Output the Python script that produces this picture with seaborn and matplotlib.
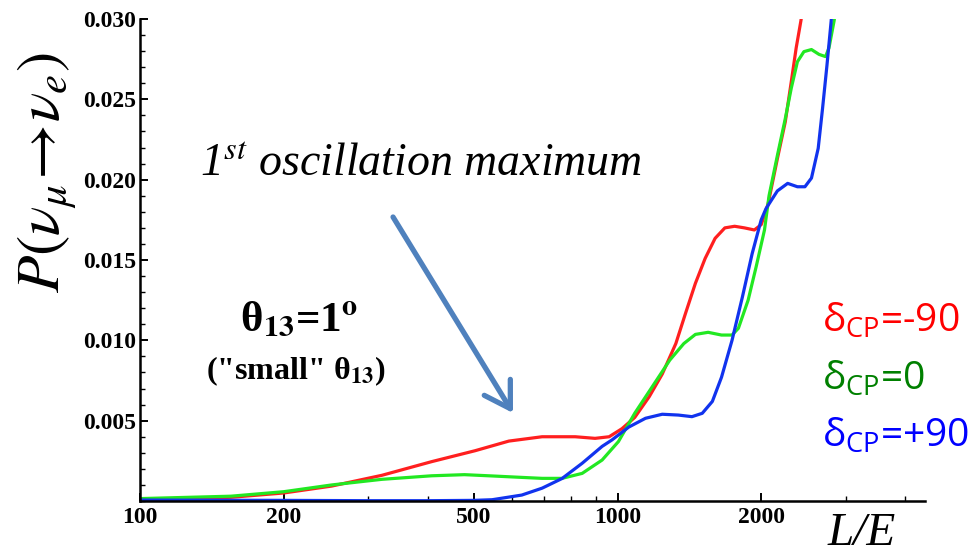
import numpy as np
import pandas as pd
import matplotlib
matplotlib.use("Agg")
import matplotlib.pyplot as plt
import matplotlib.ticker as mticker
import seaborn as sns

# values (L/E, probability)
le_red = [100, 155, 200, 252, 321, 408, 503, 592, 695, 815, 897, 960, 1021, 1086,
          1165, 1240, 1324, 1388, 1455, 1525, 1600, 1677, 1758, 1843, 1933, 1998,
          2066, 2160, 2244, 2310, 2365, 2420, 2470]
p_red = [0.0001, 0.00023, 0.0005, 0.00093, 0.0016, 0.00245, 0.00313, 0.00373, 0.0040,
         0.0040, 0.0039, 0.0040, 0.0045, 0.0052, 0.0065, 0.0079, 0.0098, 0.0117,
         0.01355, 0.0151, 0.01635, 0.0170, 0.0171, 0.0170, 0.01687, 0.0172, 0.0185,
         0.0213, 0.0236, 0.0261, 0.0282, 0.0299, 0.0318]

le_green = [100, 155, 200, 252, 321, 408, 478, 546, 620, 695, 765, 843, 928, 1004,
            1086, 1181, 1286, 1376, 1455, 1547, 1650, 1736, 1790, 1876, 1950, 2030,
            2075, 2160, 2244, 2310, 2379, 2455, 2546, 2640, 2725, 2770, 2840, 2880]
p_green = [0.00015, 0.0003, 0.00058, 0.001, 0.00135, 0.00157, 0.00164, 0.00156, 0.00148,
           0.00141, 0.00141, 0.00172, 0.00255, 0.0037, 0.00546, 0.0071, 0.00877, 0.0098,
           0.01037, 0.0105, 0.01033, 0.01033, 0.01075, 0.0125, 0.01458, 0.01687, 0.019,
           0.0215, 0.0238, 0.0257, 0.02734, 0.02797, 0.0281, 0.0278, 0.02766, 0.0282,
           0.0299, 0.0315]

le_blue = [100, 200, 300, 400, 500, 546, 630, 695, 765, 843, 928, 973, 1055, 1144,
           1240, 1340, 1431, 1504, 1579, 1650, 1736, 1825, 1913, 1998, 2045, 2160,
           2270, 2379, 2467, 2546, 2630, 2685, 2743, 2800, 2830]
p_blue = [0.00006, 0.00004, 0.00002, 0.00002, 0.00004, 0.00008, 0.00037, 0.0008, 0.0014,
          0.00235, 0.0034, 0.0038, 0.0046, 0.00515, 0.0054, 0.00535, 0.00525, 0.00546,
          0.0062, 0.0077, 0.0100, 0.0127, 0.0154, 0.0175, 0.0182, 0.0193, 0.01977,
          0.01956, 0.01956, 0.0201, 0.02195, 0.0244, 0.0271, 0.0299, 0.0315]

x_major = [100, 200, 500, 1000, 2000]
x_minor = [300, 400, 600, 700, 800, 900, 3000, 4000]
y_major = [0.005, 0.010, 0.015, 0.020, 0.025, 0.030]

labels = ["δ$_{\\mathrm{CP}}$=-90", "δ$_{\\mathrm{CP}}$=0", "δ$_{\\mathrm{CP}}$=+90"]
label_colors = ["#ff0000", "#008000", "#0000ff"]
line_colors = ["#ff1f1f", "#22e822", "#1133ee"]

sns.set_style("ticks")
plt.rcParams.update({
    "font.family": ["Liberation Serif", "DejaVu Serif"],
    "text.color": "black",
    "xtick.color": "black",
    "ytick.color": "black",
    "axes.edgecolor": "black",
    "mathtext.fontset": "stix",
    "mathtext.rm": "Open Sans",
    "mathtext.it": "Open Sans:italic",
    "mathtext.bf": "Open Sans:bold",
})

fig = plt.figure(figsize=(9.76, 5.56), dpi=100)
ax = fig.add_axes([0.1434, 0.0989, 0.8043, 0.8669])

for le, p, c in [(le_red, p_red, line_colors[0]),
                 (le_green, p_green, line_colors[1]),
                 (le_blue, p_blue, line_colors[2])]:
    df = pd.DataFrame({"le": le, "p": p})
    sns.lineplot(data=df, x="le", y="p", color=c, lw=2.3, ax=ax, estimator=None,
                 solid_joinstyle="round", solid_capstyle="round")

ax.set_xscale("log")
ax.set_xlim(100, 4400)
ax.set_ylim(0, 0.030)
ax.set_xlabel("")
ax.set_ylabel("")

ax.xaxis.set_major_locator(mticker.FixedLocator(x_major))
ax.xaxis.set_minor_locator(mticker.FixedLocator(x_minor))
ax.xaxis.set_major_formatter(mticker.FixedFormatter([str(v) for v in x_major]))
ax.xaxis.set_minor_formatter(mticker.NullFormatter())
ax.yaxis.set_major_locator(mticker.FixedLocator(y_major))
ax.yaxis.set_minor_locator(mticker.MultipleLocator(0.001))
ax.yaxis.set_major_formatter(mticker.FormatStrFormatter("%.3f"))

for lab in ax.get_xticklabels() + ax.get_yticklabels():
    lab.set_fontweight("bold")
    lab.set_fontsize(17)
ax.tick_params(which="major", direction="in", length=6, width=1.4, pad=3)
ax.tick_params(which="minor", direction="in", length=3.5, width=1.0)
ax.tick_params(axis="x", pad=4)

sns.despine(ax=ax)
for s in ["left", "bottom"]:
    ax.spines[s].set_linewidth(1.8)

# axis titles
fig.text(0.049, 0.69, r"$P(\nu_\mu\!\rightarrow\!\nu_e)$", rotation=90,
         fontsize=44, ha="center", va="center", math_fontfamily="stix")
fig.text(0.883, 0.04, "L/E", fontsize=34, style="italic", ha="center", va="center")

# annotations
fig.text(0.431, 0.703, "1$^{st}$ oscillation maximum", fontsize=33, style="italic",
         ha="center", va="center", math_fontfamily="stix")
fig.text(0.306, 0.405, "θ$_{\\mathbf{13}}$=1$^{\\mathbf{o}}$", fontsize=31,
         fontweight="bold", ha="center", va="baseline", math_fontfamily="stix")
fig.text(0.303, 0.333, '("small" θ$_{\\mathbf{13}}$)', fontsize=23,
         fontweight="bold", ha="center", va="center", math_fontfamily="stix")

ax.annotate("", xy=(0.5256, 0.2572), xytext=(0.4027, 0.6097),
            xycoords="figure fraction", textcoords="figure fraction",
            arrowprops=dict(arrowstyle="->,head_length=0.9,head_width=0.55",
                            lw=3.8, color="#4f81bd", mutation_scale=20,
                            shrinkA=0, shrinkB=0))

# delta_CP labels
for i, (t, c) in enumerate(zip(labels, label_colors)):
    fig.text(0.842, 1 - [332, 390, 447][i] / 556, t, fontsize=28, color=c,
             family=["Open Sans", "DejaVu Sans"], ha="left", va="baseline",
             math_fontfamily="custom")

fig.savefig("out.png", dpi=100)
